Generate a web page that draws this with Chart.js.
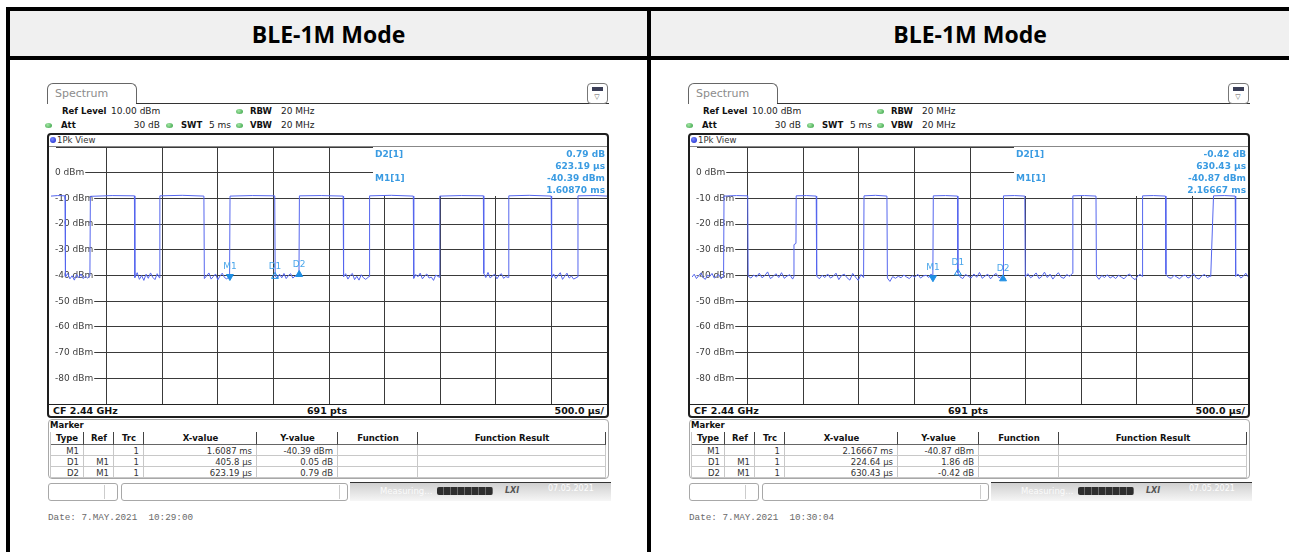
<!DOCTYPE html>
<html>
<head>
<meta charset="utf-8">
<title>BLE-1M Mode</title>
<script src="https://cdn.jsdelivr.net/npm/chart.js@4.4.1/dist/chart.umd.min.js"></script>
<style>
  body { margin: 0; width: 1289px; height: 552px; overflow: hidden; background: #fff; position: relative; font-family: "DejaVu Sans", sans-serif; color: #111; }
  .a { position: absolute; white-space: nowrap; }
  .bar { position: absolute; background: #000; }
  .head { position: absolute; top: 11px; height: 45px; background: #f0f0f0; display: flex; align-items: center; justify-content: center; font: bold 23px "Open Sans", sans-serif; color: #000; }
  .panel { position: absolute; top: 0; width: 648px; height: 552px; }
  .dot { position: absolute; width: 7px; height: 5px; border-radius: 50%; background: radial-gradient(circle at 40% 35%, #a6e6a6, #2f9e3f); }
  .mono { font-family: "Liberation Mono", monospace; }
</style>
</head>
<body>

<div class="head" style="left:10px;width:637px" id="h0"></div>
<div class="head" style="left:651px;width:638px" id="h1"></div>
<div class="bar" style="left:6px;top:7px;width:1283px;height:4px"></div>
<div class="bar" style="left:6px;top:7px;width:4px;height:545px"></div>
<div class="bar" style="left:647px;top:7px;width:4px;height:545px"></div>
<div class="bar" style="left:6px;top:56px;width:1283px;height:4px"></div>

<div class="panel" id="p0" style="left:0px"></div>
<div class="panel" id="p1" style="left:641px"></div>

<script>
// ---------------------------------------------------------
// DATA
// ---------------------------------------------------------
const titles = ['BLE-1M Mode', 'BLE-1M Mode'];

// time axis in ms (0 .. 5 ms, 500 us/div), level axis in dBm
const xMin = 0, xMax = 5, xStep = 0.5;
const yMin = -90, yMax = 10, yStep = 10;

// settings shown above the plot
const refLevel = '10.00 dBm', att = '30 dB', swt = '5 ms', rbw = '20 MHz', vbw = '20 MHz';
const cfText = 'CF 2.44 GHz', ptsText = '691 pts', divText = '500.0 µs/';

// left screenshot trace
const leftTime = [0.000, 0.060, 0.126, 0.130, 0.150, 0.170, 0.190, 0.210, 0.230, 0.250, 0.270, 0.290, 0.310, 0.330, 0.350,
  0.354, 0.550, 0.750, 0.754, 0.775, 0.795, 0.815, 0.835, 0.855, 0.875, 0.895, 0.915, 0.935, 0.955, 0.975,
  0.979, 1.180, 1.375, 1.379, 1.400, 1.420, 1.440, 1.460, 1.480, 1.500, 1.520, 1.540, 1.560, 1.580, 1.606,
  1.610, 1.810, 2.012, 2.016, 2.035, 2.055, 2.075, 2.095, 2.115, 2.135, 2.155, 2.175, 2.195, 2.215, 2.230,
  2.234, 2.430, 2.627, 2.631, 2.650, 2.670, 2.690, 2.710, 2.730, 2.750, 2.770, 2.790, 2.810, 2.830, 2.860,
  2.865, 3.060, 3.258, 3.262, 3.280, 3.300, 3.320, 3.340, 3.360, 3.380, 3.400, 3.420, 3.440, 3.460, 3.492,
  3.496, 3.690, 3.888, 3.892, 3.910, 3.930, 3.950, 3.970, 3.990, 4.010, 4.030, 4.050, 4.070, 4.090, 4.113,
  4.117, 4.300, 4.498, 4.502, 4.520, 4.540, 4.560, 4.580, 4.600, 4.620, 4.640, 4.660, 4.680, 4.700, 4.735,
  4.739, 4.900, 5.000];
const leftLevel = [-9.1, -8.9, -9.0, -40.6, -39.2, -41.3, -40.1, -41.8, -39.6, -40.9, -39.4, -41.2, -40.3, -41.0, -40.2,
  -9.2, -8.9, -9.0, -40.8, -38.9, -41.5, -40.0, -41.9, -39.5, -41.1, -39.0, -40.7, -41.6, -39.3, -40.9,
  -9.0, -8.8, -9.1, -41.2, -40.1, -39.0, -41.4, -40.4, -39.4, -41.7, -40.2, -39.1, -40.8, -41.3, -40.4,
  -9.1, -8.9, -9.0, -40.3, -41.0, -39.5, -40.9, -39.2, -41.2, -40.0, -39.3, -41.0, -40.2, -39.8, -39.6,
  -9.0, -8.9, -9.1, -40.5, -39.3, -41.4, -40.0, -39.2, -41.6, -40.3, -41.8, -39.7, -40.9, -41.5, -40.4,
  -9.0, -8.8, -9.1, -41.1, -39.6, -40.5, -39.1, -41.3, -40.2, -39.4, -41.0, -40.6, -41.9, -39.8, -40.7,
  -9.1, -8.9, -9.0, -39.2, -40.8, -38.8, -41.0, -40.1, -39.5, -41.3, -40.0, -39.3, -41.1, -40.4, -40.8,
  -9.0, -8.8, -9.1, -40.9, -39.4, -41.2, -40.0, -38.9, -41.5, -40.3, -39.1, -41.0, -40.2, -41.4, -40.6,
  -9.0, -8.9, -9.1];

// right screenshot trace
const rightTime = [0.000, 0.020, 0.040, 0.060, 0.080, 0.100, 0.120, 0.140, 0.160, 0.180, 0.200, 0.220, 0.240, 0.262, 0.284,
  0.288, 0.400, 0.501, 0.505, 0.530, 0.555, 0.580, 0.605, 0.630, 0.655, 0.680, 0.705, 0.730, 0.755, 0.780, 0.805, 0.830, 0.855, 0.880, 0.905, 0.915,
  0.917, 0.935, 0.937, 1.030, 1.117, 1.121, 1.145, 1.170, 1.195, 1.220, 1.245, 1.270, 1.295, 1.320, 1.345, 1.370, 1.395, 1.420, 1.445, 1.470, 1.495, 1.520, 1.543,
  1.547, 1.650, 1.753, 1.757, 1.780, 1.805, 1.830, 1.855, 1.880, 1.905, 1.930, 1.955, 1.980, 2.005, 2.030, 2.055, 2.080, 2.105, 2.130, 2.150, 2.166,
  2.170, 2.280, 2.388, 2.391, 2.410, 2.435, 2.460, 2.485, 2.510, 2.535, 2.560, 2.585, 2.610, 2.635, 2.660, 2.685, 2.710, 2.735, 2.760, 2.780, 2.797,
  2.801, 2.900, 2.993, 2.997, 3.020, 3.045, 3.070, 3.095, 3.120, 3.145, 3.170, 3.195, 3.220, 3.245, 3.270, 3.295, 3.320, 3.345, 3.370, 3.395, 3.421,
  3.425, 3.530, 3.633, 3.637, 3.660, 3.685, 3.710, 3.735, 3.760, 3.785, 3.810, 3.835, 3.860, 3.885, 3.910, 3.935, 3.960, 3.985, 4.010, 4.030, 4.048,
  4.052, 4.150, 4.258, 4.262, 4.285, 4.310, 4.335, 4.360, 4.385, 4.410, 4.435, 4.460, 4.485, 4.510, 4.535, 4.560, 4.585, 4.610, 4.635, 4.660, 4.665,
  4.690, 4.790, 4.885, 4.889, 4.910, 4.935, 4.960, 4.980, 5.000];
const rightLevel = [-40.6, -39.5, -41.2, -40.1, -39.0, -40.8, -41.5, -39.8, -40.4, -39.2, -41.0, -40.3, -39.6, -41.3, -40.2,
  -9.1, -8.9, -9.0, -40.3, -41.0, -39.8, -40.6, -39.1, -40.9, -40.0, -38.6, -41.2, -40.4, -39.3, -40.8, -38.9, -41.1, -40.2, -39.7, -41.4, -40.5,
  -28.0, -27.5, -9.0, -8.9, -9.1, -40.2, -41.3, -39.9, -40.8, -39.4, -41.0, -40.3, -39.1, -41.6, -40.0, -39.5, -40.9, -41.8, -39.2, -40.6, -41.9, -39.6, -40.8,
  -9.0, -8.8, -9.1, -41.0, -42.3, -40.4, -41.1, -40.3, -40.9, -39.8, -40.6, -41.2, -40.0, -40.7, -39.5, -41.0, -40.2, -39.9, -40.8, -39.4, -40.87,
  -9.0, -8.9, -9.1, -39.0, -40.5, -41.2, -39.6, -40.3, -41.0, -39.4, -40.7, -38.8, -41.1, -40.2, -39.5, -41.3, -40.0, -39.2, -40.9, -40.4, -41.29,
  -9.0, -8.9, -9.1, -40.6, -39.3, -40.9, -40.1, -39.0, -41.2, -40.4, -38.7, -40.8, -39.5, -41.4, -40.0, -38.9, -40.7, -41.1, -39.6, -40.3, -39.2,
  -9.0, -8.9, -9.1, -40.2, -41.5, -40.0, -40.8, -39.7, -41.0, -40.3, -41.2, -39.9, -40.6, -41.3, -40.1, -39.4, -40.9, -41.6, -40.2, -39.5, -40.4,
  -9.0, -8.9, -9.1, -39.5, -40.8, -41.1, -39.9, -40.6, -41.3, -40.2, -39.8, -41.0, -40.4, -39.3, -40.9, -41.4, -40.1, -39.6, -40.8, -40.2, -40.3,
  -9.0, -8.9, -9.1, -40.3, -39.4, -41.0, -40.2, -39.1, -40.5];

// markers (M1 absolute, D1/D2 relative to M1)
const markerNames = ['M1', 'D1', 'D2'];
const leftMarkerX = [1.6087, 2.0145, 2.2319];
const leftMarkerY = [-40.39, -40.34, -39.60];
const rightMarkerX = [2.16667, 2.3913, 2.7971];
const rightMarkerY = [-40.87, -39.01, -41.29];

// marker readout in the top right of the plot
const leftReadout = ['0.79 dB', '623.19 µs', '-40.39 dBm', '1.60870 ms'];
const rightReadout = ['-0.42 dB', '630.43 µs', '-40.87 dBm', '2.16667 ms'];

// marker table
const tableHeads = ['Type', 'Ref', 'Trc', 'X-value', 'Y-value', 'Function', 'Function Result'];
const markerRefs = ['', 'M1', 'M1'];
const markerTrc = ['1', '1', '1'];
const leftXValues = ['1.6087 ms', '405.8 µs', '623.19 µs'];
const leftYValues = ['-40.39 dBm', '0.05 dB', '0.79 dB'];
const rightXValues = ['2.16667 ms', '224.64 µs', '630.43 µs'];
const rightYValues = ['-40.87 dBm', '1.86 dB', '-0.42 dB'];

const dates = ['Date: 7.MAY.2021&nbsp;&nbsp;10:29:00', 'Date: 7.MAY.2021&nbsp;&nbsp;10:30:04'];

// ---------------------------------------------------------
// PAGE LAYOUT (one spectrum screenshot per cell)
// ---------------------------------------------------------
const R = 'font-size:9px;color:#222;';
const B = 'font-size:8.5px;font-weight:bold;color:#111;';

function txt(x, cy, s, style, align, cls) {
  let tr = '';
  if (align === 'right') tr = 'transform:translateX(-100%);';
  if (align === 'center') tr = 'transform:translateX(-50%);';
  return `<div class="a ${cls || ''}" style="left:${x}px;top:${cy - 6}px;line-height:12px;${tr}${style || ''}">${s}</div>`;
}
function box(x, y, w, h, style) {
  return `<div class="a" style="left:${x}px;top:${y}px;width:${w}px;height:${h}px;box-sizing:border-box;${style || ''}"></div>`;
}
function dot(x, cy) {
  return `<div class="dot" style="left:${x}px;top:${cy - 2}px"></div>`;
}

function buildPanel(i, xValues, yValues) {
  let h = '';
  // tab + settings
  h += box(47, 83, 90, 21, 'border:1px solid #666;border-bottom:none;border-radius:6px 6px 0 0;background:#fff');
  h += txt(55, 94, 'Spectrum', 'font-size:11px;color:#8c8c8c');
  h += box(136, 103, 473, 1, 'background:#333');
  h += box(587, 83, 21, 21, 'border:1px solid #777;border-radius:4px;background:#fff');
  h += box(592, 87, 11, 4, 'background:#3b3f58');
  h += txt(597, 97, '▽', 'font-size:7px;color:#555', 'center');
  h += txt(62, 111, 'Ref Level', B) + txt(111, 111, refLevel, R);
  h += dot(236, 111) + txt(250, 111, 'RBW', B) + txt(281, 111, rbw, R);
  h += dot(45, 125) + txt(61, 125, 'Att', B) + txt(160, 125, att, R, 'right');
  h += dot(166, 125) + txt(181, 125, 'SWT', B) + txt(209, 125, swt, R);
  h += dot(236, 125) + txt(250, 125, 'VBW', B) + txt(281, 125, vbw, R);

  // diagram frame
  h += box(47, 133, 562, 285, 'border:2px solid #1e1e1e;border-radius:4px');
  h += box(50, 137, 6, 6, 'border-radius:50%;background:radial-gradient(circle at 40% 35%,#7d8cff,#1020c8)');
  h += txt(57, 140, '1Pk View', 'font-size:8.5px;color:#333');
  h += box(49, 146, 558, 1, 'background:#888');
  h += `<canvas id="c${i}" class="a" width="556" height="257" style="left:51px;top:147px"></canvas>`;
  h += box(49, 404, 558, 1, 'background:#222');
  const F = 'font-size:9.5px;font-weight:bold;color:#111;';
  h += txt(53, 411, cfText, F) + txt(327, 411, ptsText, F, 'center') + txt(604, 411, divText, F, 'right');

  // marker table
  h += box(48, 419, 561, 60, 'border:1px solid #a8a8a8;border-radius:4px');
  h += txt(50, 425, 'Marker', B);
  const cols = [50, 84, 114, 144, 257, 338, 418, 606];
  for (let c = 0; c < 7; c++) {
    const x0 = cols[c], w = cols[c + 1] - cols[c];
    h += box(x0, 432, w, 13, 'border-right:1px solid #444;border-bottom:1px solid #666');
    h += txt(x0 + w / 2, 438, tableHeads[c], B, 'center');
    const vals = [markerNames, markerRefs, markerTrc, xValues, yValues, ['', '', ''], ['', '', '']][c];
    for (let r = 0; r < 3; r++) {
      const y0 = 445 + r * 11;
      h += box(x0, y0, w, 11, 'border-right:1px solid #c8c8c8;border-bottom:1px solid #c8c8c8');
      if (vals[r]) h += txt(x0 + w - 5, y0 + 5.5, vals[r], 'font-size:8.5px;color:#333', 'right');
    }
  }
  h += box(50, 432, 1, 46, 'background:#c8c8c8');

  // status bar
  h += box(48, 483, 70, 18, 'border:1px solid #a8a8a8;border-radius:3px');
  h += box(104, 485, 1, 14, 'background:#ccc');
  h += box(121, 483, 227, 18, 'border:1px solid #a8a8a8;border-radius:3px');
  h += box(339, 485, 1, 14, 'background:#ccc');
  h += box(350, 482, 261, 19, 'border-top:1px solid #333;background:linear-gradient(#d0d0d0,#f6f6f6)');
  h += txt(380, 491, 'Measuring...', 'font-size:8.5px;color:#fbfbfb');
  h += box(437, 487, 56, 8, 'border-radius:2px;background:repeating-linear-gradient(90deg,#2e2e2e 0 6px,#6a6a6a 6px 7px)');
  h += txt(505, 491, 'LXI', 'font-size:8px;font-weight:bold;font-style:italic;color:#555');
  h += txt(548, 489, '07.05.2021', 'font-size:8px;color:#fdfdfd');
  h += txt(48, 518, dates[i], 'font-size:9.3px;color:#6a6a6a', null, 'mono');
  return h;
}

document.getElementById('h0').textContent = titles[0];
document.getElementById('h1').textContent = titles[1];
document.getElementById('p0').innerHTML = buildPanel(0, leftXValues, leftYValues);
document.getElementById('p1').innerHTML = buildPanel(1, rightXValues, rightYValues);

// ---------------------------------------------------------
// CHARTS
// ---------------------------------------------------------
const markerBlue = '#1f8fe4';
const gridColor = '#3a3a3a';

// white readout box in the top right + marker labels
const markerOverlay = {
  id: 'markerOverlay',
  beforeDatasetsDraw(chart, args, o) {
    const { ctx, chartArea: a } = chart;
    ctx.save();
    ctx.fillStyle = '#fff';
    ctx.fillRect(a.left + 322, a.top, a.right - a.left - 322, 49);
    ctx.fillStyle = '#3a9be2';
    ctx.font = 'bold 9px "DejaVu Sans"';
    ctx.textBaseline = 'middle';
    ctx.textAlign = 'left';
    ctx.fillText('D2[1]', a.left + 324, a.top + 8);
    ctx.fillText('M1[1]', a.left + 324, a.top + 32);
    ctx.textAlign = 'right';
    o.readout.forEach((s, i) => ctx.fillText(s, a.right - 2, a.top + 8 + 12 * i));
    ctx.restore();
  },
  afterDatasetsDraw(chart, args, o) {
    const { ctx } = chart;
    ctx.save();
    ctx.fillStyle = '#4aa6ea';
    ctx.font = '9px "DejaVu Sans"';
    ctx.textAlign = 'center';
    ctx.textBaseline = 'middle';
    chart.getDatasetMeta(1).data.forEach((pt, i) => ctx.fillText(markerNames[i], pt.x, pt.y - 10));
    ctx.restore();
  }
};

function makeChart(id, times, levels, mx, my, readout) {
  new Chart(document.getElementById(id), {
    type: 'line',
    data: {
      datasets: [{
        data: times.map((t, i) => ({ x: t, y: levels[i] })),
        borderColor: '#5566ee',
        borderWidth: 1,
        pointRadius: 0,
        tension: 0,
        order: 2
      }, {
        type: 'scatter',
        data: mx.map((t, i) => ({ x: t, y: my[i] })),
        pointStyle: 'triangle',
        rotation: [180, 0, 0],
        pointRadius: 4,
        backgroundColor: [markerBlue, 'rgba(255,255,255,0)', markerBlue],
        borderColor: markerBlue,
        borderWidth: 1,
        order: 1
      }]
    },
    options: {
      responsive: false,
      animation: false,
      devicePixelRatio: 1,
      events: [],
      layout: { padding: 0, autoPadding: false },
      plugins: {
        legend: { display: false },
        tooltip: { enabled: false },
        markerOverlay: { readout }
      },
      scales: {
        x: {
          type: 'linear', min: xMin, max: xMax,
          ticks: { stepSize: xStep, display: false },
          grid: { color: c => c.index === 0 ? 'rgba(0,0,0,0)' : gridColor, drawTicks: false },
          border: { display: false },
          afterFit(s) { s.height = 0; s.paddingLeft = s.paddingRight = 0; }
        },
        y: {
          min: yMin, max: yMax,
          ticks: {
            stepSize: yStep,
            mirror: true,
            padding: 4,
            color: '#404040',
            font: { family: 'DejaVu Sans', size: 9 },
            showLabelBackdrop: true,
            backdropColor: '#fff',
            backdropPadding: { left: 4, right: 1, top: 0, bottom: 0 },
            callback: v => (v === yMax || v === yMin) ? '' : v + ' dBm'
          },
          grid: { color: gridColor, drawTicks: false },
          border: { display: false },
          afterFit(s) { s.width = 0; s.paddingTop = s.paddingBottom = 0; }
        }
      }
    },
    plugins: [markerOverlay]
  });
}

makeChart('c0', leftTime, leftLevel, leftMarkerX, leftMarkerY, leftReadout);
makeChart('c1', rightTime, rightLevel, rightMarkerX, rightMarkerY, rightReadout);
</script>
</body>
</html>
